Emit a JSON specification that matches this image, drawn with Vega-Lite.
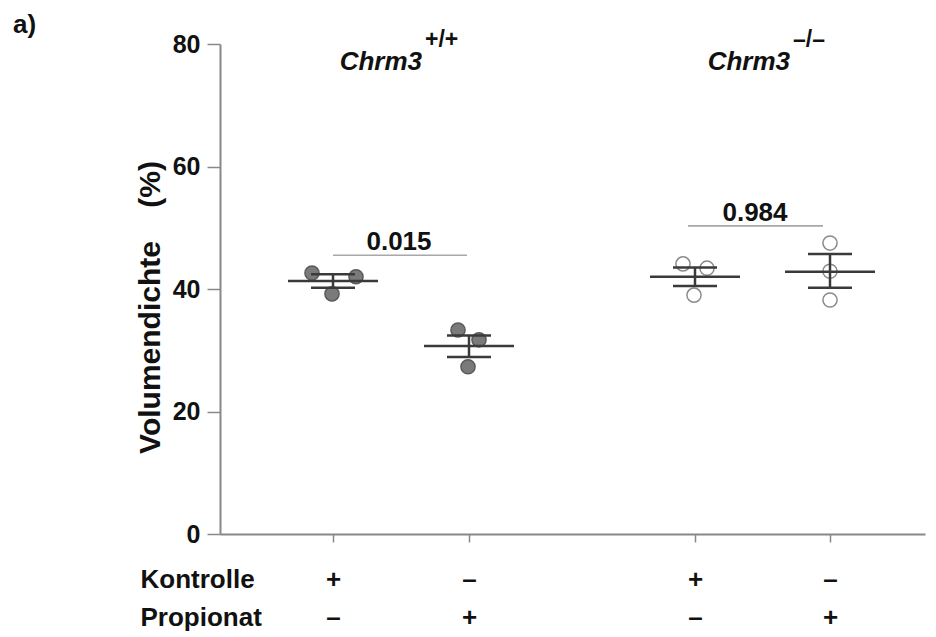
{
  "$schema": "https://vega.github.io/schema/vega-lite/v6.json",
  "width": 705,
  "height": 490,
  "autosize": {"type": "none"},
  "padding": {"left": 220, "top": 44, "right": 11, "bottom": 103},
  "background": "white",
  "config": {
    "view": {"stroke": null},
    "font": "Liberation Sans"
  },
  "title": {
    "text": "a)",
    "anchor": "start",
    "frame": "group",
    "dx": -207,
    "offset": -30,
    "fontSize": 26,
    "fontWeight": "bold",
    "font": "Liberation Sans",
    "baseline": "alphabetic",
    "color": "#111"
  },
  "datasets": {
    "points": [
      {"group": "WT Kontrolle", "genotype": "+/+", "x": 0.92, "value": 42.6},
      {"group": "WT Kontrolle", "genotype": "+/+", "x": 1.36, "value": 42.0},
      {"group": "WT Kontrolle", "genotype": "+/+", "x": 1.12, "value": 39.2},
      {"group": "WT Propionat", "genotype": "+/+", "x": 2.38, "value": 33.3},
      {"group": "WT Propionat", "genotype": "+/+", "x": 2.59, "value": 31.7},
      {"group": "WT Propionat", "genotype": "+/+", "x": 2.48, "value": 27.3},
      {"group": "KO Kontrolle", "genotype": "-/-", "x": 4.63, "value": 44.1},
      {"group": "KO Kontrolle", "genotype": "-/-", "x": 4.87, "value": 43.4},
      {"group": "KO Kontrolle", "genotype": "-/-", "x": 4.74, "value": 39.0},
      {"group": "KO Propionat", "genotype": "-/-", "x": 6.10, "value": 47.5},
      {"group": "KO Propionat", "genotype": "-/-", "x": 6.10, "value": 42.9},
      {"group": "KO Propionat", "genotype": "-/-", "x": 6.10, "value": 38.2}
    ],
    "summary": [
      {"group": "WT Kontrolle", "x": 1.13, "mean": 41.3, "lo": 40.2, "hi": 42.4},
      {"group": "WT Propionat", "x": 2.49, "mean": 30.7, "lo": 28.9, "hi": 32.4},
      {"group": "KO Kontrolle", "x": 4.75, "mean": 42.0, "lo": 40.5, "hi": 43.5},
      {"group": "KO Propionat", "x": 6.10, "mean": 42.8, "lo": 40.2, "hi": 45.7}
    ],
    "sig": [
      {"x1": 1.13, "x2": 2.47, "xm": 1.79, "y": 45.5, "p": "0.015"},
      {"x1": 4.68, "x2": 6.03, "xm": 5.35, "y": 50.3, "p": "0.984"}
    ],
    "genotypes": [
      {"x": 2.02, "name": "Chrm3", "sup": "+/+"},
      {"x": 5.70, "name": "Chrm3", "sup": "–/–"}
    ]
  },
  "layer": [
    {
      "data": {"name": "sig"},
      "mark": {"type": "rule", "color": "#a8a8a8", "strokeWidth": 1.6},
      "encoding": {
        "x": {"field": "x1", "type": "quantitative", "scale": {"domain": [0, 7.05], "nice": false, "zero": false},
          "axis": {
            "values": [1.13, 2.49, 4.75, 6.10],
            "labelExpr": "datum.value < 2 ? ['+','–'] : datum.value < 3 ? ['–','+'] : datum.value < 5.5 ? ['+','–'] : ['–','+']",
            "labelFontSize": 26,
            "labelFontWeight": "bold",
            "labelColor": "#111",
            "labelLineHeight": 38,
            "labelPadding": 24,
            "labelBaseline": "top",
            "tickSize": 8,
            "tickColor": "#888",
            "tickWidth": 1.5,
            "domainColor": "#888",
            "domainWidth": 2,
            "grid": false,
            "title": ["Kontrolle", "Propionat"],
            "titleFontSize": 26,
            "titleFontWeight": "bold",
            "titleColor": "#111",
            "titleLineHeight": 38,
            "titleAlign": "left",
            "titleBaseline": "top",
            "titleX": -80,
            "titleY": 32
          }
        },
        "x2": {"field": "x2"},
        "y": {"field": "y", "type": "quantitative", "scale": {"domain": [0, 80], "nice": false},
          "axis": {
            "values": [0, 20, 40, 60, 80],
            "labelFontSize": 25,
            "labelFontWeight": "bold",
            "labelColor": "#111",
            "labelPadding": 7,
            "tickSize": 13,
            "tickColor": "#888",
            "tickWidth": 1.5,
            "domainColor": "#888",
            "domainWidth": 2,
            "grid": false,
            "title": "Volumendichte\u00a0\u00a0\u00a0\u00a0(%)",
            "titleFontSize": 30,
            "titleFontWeight": "bold",
            "titleColor": "#111",
            "titleBaseline": "alphabetic",
            "titleX": -61,
            "titleY": 263
          }
        }
      }
    },
    {
      "data": {"name": "sig"},
      "mark": {"type": "text", "fontSize": 26, "fontWeight": "bold", "color": "#111", "baseline": "alphabetic", "dy": -5},
      "encoding": {
        "x": {"field": "xm", "type": "quantitative"},
        "y": {"field": "y", "type": "quantitative"},
        "text": {"field": "p"}
      }
    },
    {
      "data": {"name": "genotypes"},
      "mark": {"type": "text", "fontSize": 26, "fontWeight": "bold", "fontStyle": "italic", "color": "#111", "align": "right", "baseline": "alphabetic", "dy": 26},
      "encoding": {
        "x": {"field": "x", "type": "quantitative"},
        "y": {"datum": 80, "type": "quantitative"},
        "text": {"field": "name"}
      }
    },
    {
      "data": {"name": "genotypes"},
      "mark": {"type": "text", "fontSize": 23, "fontWeight": "bold", "color": "#111", "align": "left", "baseline": "alphabetic", "dx": 3, "dy": 3},
      "encoding": {
        "x": {"field": "x", "type": "quantitative"},
        "y": {"datum": 80, "type": "quantitative"},
        "text": {"field": "sup"}
      }
    },
    {
      "data": {"name": "points"},
      "mark": {"type": "point", "shape": "circle", "size": 200, "strokeWidth": 1.5, "opacity": 1},
      "encoding": {
        "x": {"field": "x", "type": "quantitative"},
        "y": {"field": "value", "type": "quantitative"},
        "fill": {"field": "genotype", "type": "nominal", "scale": {"domain": ["+/+", "-/-"], "range": ["#7a7a7a", "#ffffff"]}, "legend": null},
        "stroke": {"field": "genotype", "type": "nominal", "scale": {"domain": ["+/+", "-/-"], "range": ["#5a5a5a", "#8a8a8a"]}, "legend": null}
      }
    },
    {
      "data": {"name": "summary"},
      "mark": {"type": "rule", "color": "#3a3a3a", "strokeWidth": 2.5},
      "encoding": {
        "x": {"field": "x", "type": "quantitative"},
        "y": {"field": "lo", "type": "quantitative"},
        "y2": {"field": "hi"}
      }
    },
    {
      "data": {"name": "summary"},
      "mark": {"type": "tick", "orient": "horizontal", "color": "#3a3a3a", "size": 90, "thickness": 2.5, "opacity": 1},
      "encoding": {
        "x": {"field": "x", "type": "quantitative"},
        "y": {"field": "mean", "type": "quantitative"}
      }
    },
    {
      "data": {"name": "summary"},
      "mark": {"type": "tick", "orient": "horizontal", "color": "#3a3a3a", "size": 44, "thickness": 2.5, "opacity": 1},
      "encoding": {
        "x": {"field": "x", "type": "quantitative"},
        "y": {"field": "hi", "type": "quantitative"}
      }
    },
    {
      "data": {"name": "summary"},
      "mark": {"type": "tick", "orient": "horizontal", "color": "#3a3a3a", "size": 44, "thickness": 2.5, "opacity": 1},
      "encoding": {
        "x": {"field": "x", "type": "quantitative"},
        "y": {"field": "lo", "type": "quantitative"}
      }
    }
  ]
}
